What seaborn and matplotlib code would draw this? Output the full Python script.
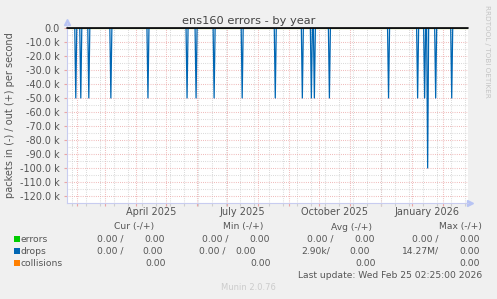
import matplotlib
matplotlib.use("Agg")
import matplotlib.pyplot as plt
import matplotlib.dates as mdates
from matplotlib.patches import Rectangle
from matplotlib.ticker import FuncFormatter, MultipleLocator
import seaborn as sns
import pandas as pd

# ---------------- data ----------------
series_names = ["errors", "drops", "collisions"]
series_colors = ["#00CC00", "#0066B3", "#FF8000"]

drop_dates = ["2025-01-31", "2025-02-05", "2025-02-13", "2025-03-07", "2025-04-13",
              "2025-05-22", "2025-05-31", "2025-06-18", "2025-07-16", "2025-08-18",
              "2025-09-14", "2025-09-23", "2025-09-26", "2025-10-11", "2025-12-09",
              "2026-01-07", "2026-01-14", "2026-01-17", "2026-01-25", "2026-02-10"]
drop_values = [-50000, -50000, -50000, -50000, -50000,
               -50000, -50000, -50000, -50000, -50000,
               -50000, -50000, -50000, -50000, -50000,
               -50000, -50000, -100000, -50000, -50000]

x_start = "2025-01-22 06:00"
x_end = "2026-02-26 06:00"

month_labels = ["April 2025", "July 2025", "October 2025", "January 2026"]
month_label_dates = ["2025-04-16", "2025-07-16", "2025-10-16", "2026-01-16"]

y_min, y_max = -125000, 0

headers = ["Cur (-/+)", "Min (-/+)", "Avg (-/+)", "Max (-/+)"]
cur_in = ["0.00 /", "0.00 /", ""]
cur_out = ["0.00", "0.00", "0.00"]
min_in = ["0.00 /", "0.00 /", ""]
min_out = ["0.00", "0.00", "0.00"]
avg_in = ["0.00 /", "2.90k/", ""]
avg_out = ["0.00", "0.00", "0.00"]
max_in = ["0.00 /", "14.27M/", ""]
max_out = ["0.00", "0.00", "0.00"]
last_update = "Last update: Wed Feb 25 02:25:00 2026"

# ---------------- build table ----------------
days = pd.date_range(pd.Timestamp(x_start).normalize(), pd.Timestamp(x_end).normalize(), freq="D")
drops = pd.Series(0.0, index=days)
drops.loc[pd.to_datetime(drop_dates)] = drop_values
frames = []
for name in series_names:
    vals = drops.values if name == "drops" else [0.0] * len(days)
    frames.append(pd.DataFrame({"date": days, "value": vals, "series": name}))
df = pd.concat(frames, ignore_index=True)

# ---------------- figure ----------------
sns.set_theme(style="white")
plt.rcParams["font.family"] = ["DejaVu Sans"]
W, H = 497, 299
fig = plt.figure(figsize=(W / 100, H / 100), dpi=100)
fig.patch.set_facecolor("#F0F0F0")

def fx(x):
    return x / W

def fy(y):
    return 1 - y / H

L, T, R, B = 67, 28, 468, 203
ax = fig.add_axes([fx(L), fy(B), (R - L) / W, (B - T) / H])
ax.set_facecolor("white")

text_col = "#555555"

sns.lineplot(data=df[df.series != "drops"], x="date", y="value", hue="series",
             palette={"errors": "#00CC00", "collisions": "#FF8000"},
             linewidth=0.8, legend=False, ax=ax)
sns.lineplot(data=df[df.series == "drops"], x="date", y="value", color="#0066B3",
             linewidth=0.9, legend=False, ax=ax)
ax.axhline(0, color="black", linewidth=1.2, zorder=5, clip_on=False)

ax.set_xlim(pd.Timestamp(x_start), pd.Timestamp(x_end))
ax.set_ylim(y_min, y_max)

# grids
dot = (0, (0.7, 1.4))
ax.xaxis.set_major_locator(mdates.MonthLocator())
ax.xaxis.set_minor_locator(mdates.RRuleLocator(
    mdates.rrulewrapper(mdates.DAILY, interval=14, dtstart=pd.Timestamp("2025-02-16").to_pydatetime())))
ax.yaxis.set_major_locator(MultipleLocator(10000))
ax.yaxis.set_minor_locator(MultipleLocator(5000))
ax.grid(which="minor", color="#CFCFCF", linestyle=dot, linewidth=0.75)
ax.grid(which="major", color="#EBA5A5", linestyle=dot, linewidth=0.75)
ax.set_axisbelow(True)

ax.xaxis.set_major_formatter(plt.NullFormatter())
ax.xaxis.set_minor_formatter(plt.NullFormatter())
ax.tick_params(axis="x", which="major", length=2.5, width=0.8, color="#EBA5A5", direction="out", bottom=True)
ax.tick_params(axis="x", which="minor", length=2.0, width=0.8, color="#CFCFCF", direction="out", bottom=True)

def yfmt(v, pos):
    if abs(v) < 1e-9:
        return "0.0"
    return "%.1f k" % (v / 1000.0)

ax.yaxis.set_major_formatter(FuncFormatter(yfmt))
ax.tick_params(axis="y", which="major", length=2, width=0.8, color="#EBA5A5", pad=3,
               labelsize=7, labelcolor=text_col, left=True)
ax.tick_params(axis="y", which="minor", length=0, left=False)

for s in ["top", "right"]:
    ax.spines[s].set_visible(False)
for s in ["left", "bottom"]:
    ax.spines[s].set_color("#C8CCF0")
    ax.spines[s].set_linewidth(0.8)
ax.spines["left"].set_bounds(y_min, 3500)

ax.set_xlabel("")
ax.set_ylabel("")

# arrows
ax.plot([0], [1.035], marker="^", markersize=4, color="#B8C4F4", transform=ax.transAxes, clip_on=False)
ax.plot([1.006], [0], marker=">", markersize=4, color="#B8C4F4", transform=ax.transAxes, clip_on=False)

# month labels
for d, lab in zip(month_label_dates, month_labels):
    ax.text(pd.Timestamp(d), -0.05, lab, transform=ax.get_xaxis_transform(),
            ha="center", va="center", fontsize=7, color=text_col)

# title and side texts
fig.text(fx(249), fy(20.5), "ens160 errors - by year", ha="center", va="center",
         fontsize=8.2, color="#444444")
fig.text(fx(10), fy(115.5), "packets in (-) / out (+) per second", rotation=90,
         ha="center", va="center", fontsize=7, color=text_col)
fig.text(fx(487), fy(51), "RRDTOOL / TOBI OETIKER", rotation=270,
         ha="center", va="center", fontsize=5.2, color="#C4C4C4")
fig.text(fx(248), fy(287), "Munin 2.0.76", ha="center", va="center",
         fontsize=6, color="#CCCCCC")

# legend table
fs = 6.6
header_x = [114.3, 223, 330.7, 439.3]
for hx, h in zip(header_x, headers):
    fig.text(fx(hx), fy(227), h, ha="left", va="center", fontsize=fs, color=text_col)

row_y = [239.3, 251, 263.3]
for i, (name, col) in enumerate(zip(series_names, series_colors)):
    y = row_y[i]
    fig.patches.append(Rectangle((fx(14), fy(y + 3)), 6 / W, 6 / H, transform=fig.transFigure,
                                 facecolor=col, edgecolor="none"))
    fig.text(fx(20.7), fy(y), name, ha="left", va="center", fontsize=fs, color=text_col)

cells = [
    (cur_in, [96.7, 96.7, 0]),
    (cur_out, [144, 142.7, 145.3]),
    (min_in, [201.7, 199, 0]),
    (min_out, [249.3, 235.5, 250]),
    (avg_in, [306.7, 301, 0]),
    (avg_out, [354, 349, 355]),
    (max_in, [411.7, 401.7, 0]),
    (max_out, [459, 459, 459]),
]
for texts, xs in cells:
    for i, (t, x) in enumerate(zip(texts, xs)):
        if t:
            fig.text(fx(x), fy(row_y[i]), t, ha="left", va="center", fontsize=fs, color=text_col)

fig.text(fx(482.3), fy(275), last_update, ha="right", va="center", fontsize=fs, color=text_col)

fig.savefig("out.png", dpi=100, facecolor=fig.get_facecolor())
